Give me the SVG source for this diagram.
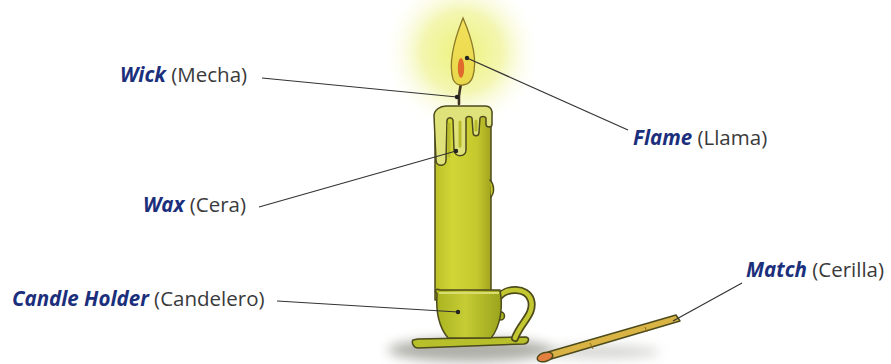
<svg xmlns="http://www.w3.org/2000/svg" width="891" height="364" viewBox="0 0 891 364">
  <defs>
    <radialGradient id="glow" cx="0.5" cy="0.5" r="0.5">
      <stop offset="0" stop-color="#eef27a"/>
      <stop offset="0.5" stop-color="#f3f6b0"/>
      <stop offset="1" stop-color="#ffffff" stop-opacity="0"/>
    </radialGradient>
    <linearGradient id="waxBody" x1="0" y1="0" x2="1" y2="0">
      <stop offset="0" stop-color="#bcc026"/>
      <stop offset="0.3" stop-color="#d2d536"/>
      <stop offset="0.75" stop-color="#c6c92d"/>
      <stop offset="1" stop-color="#a2a51f"/>
    </linearGradient>
    <linearGradient id="cupBody" x1="0" y1="0" x2="1" y2="0">
      <stop offset="0" stop-color="#a9b420"/>
      <stop offset="0.45" stop-color="#c6cc34"/>
      <stop offset="1" stop-color="#9aa41c"/>
    </linearGradient>
    <linearGradient id="flameFill" x1="0" y1="0" x2="0" y2="1">
      <stop offset="0" stop-color="#f2e15a"/>
      <stop offset="1" stop-color="#e8d84a"/>
    </linearGradient>
    <filter id="soft" x="-30%" y="-100%" width="160%" height="300%">
      <feGaussianBlur stdDeviation="6"/>
    </filter>
    <style>
      .lbl { font-family: "Open Sans", "Noto Sans", "Liberation Sans", sans-serif; font-size: 20.5px; }
      .en { font-weight: 700; font-style: italic; fill: #1b2f7c; }
      .es { fill: #3a3a3a; }
      .lead { stroke: #333333; stroke-width: 1.2; fill: none; }
      .dot { fill: #222222; }
      .ink { stroke: #4d4a1c; stroke-width: 1.5; stroke-linejoin: round; stroke-linecap: round; }
    </style>
  </defs>

  <rect width="891" height="364" fill="#ffffff"/>

  <!-- glow around the flame -->
  <circle cx="462" cy="52" r="80" fill="url(#glow)"/>

  <!-- soft shadows on the table -->
  <ellipse cx="470" cy="350" rx="82" ry="12" fill="#7a7a70" opacity="0.6" filter="url(#soft)"/>
  <ellipse cx="600" cy="352" rx="60" ry="6" fill="#9a9a90" opacity="0.45" filter="url(#soft)"/>

  <g id="candle">
    <!-- body -->
    <path class="ink" d="M435,114 L435,300 L491,300 L491,114 Z" fill="url(#waxBody)"/>
    <!-- drip bump on the right side -->
    <path class="ink" d="M490,180 C494,184 495,192 491,197" fill="#c4c72c"/>
    <!-- melted wax on top -->
    <path class="ink" d="M434,116 C434,110 440,106 446,106 L485,106 C491,106 493,111 492,116 L492,124 C492,128 486,128 486,124 L486,118 C485,116 481,116 480,118 L479,132 C479,137 473,137 473,132 L472,118 C471,116 467,116 466,118 L466,150 C466,157 455,158 454,150 L453,120 C452,117 448,117 447,120 L446,160 C446,167 436,167 436,160 Z" fill="#dfe27a"/>
    <!-- inner drip shadows -->
    <path d="M449,124 L449,156 M460,122 L460,146 M476,121 L476,130" stroke="#b8bb2a" stroke-width="3" fill="none" stroke-linecap="round"/>
  </g>

  <g id="wick">
    <path d="M461,84 C460,90 458,94 459,104" stroke="#3d3220" stroke-width="2.6" fill="none" stroke-linecap="round"/>
  </g>

  <g id="flame">
    <path d="M463,18 C470,34 478,58 473,76 C470,87 456,88 453,79 C448,62 455,38 463,18 Z" fill="url(#flameFill)" stroke="#8c7a2a" stroke-width="1.3"/>
    <ellipse cx="461" cy="68" rx="3.2" ry="10" fill="#e06a2c"/>
  </g>

  <g id="holder">
    <!-- tray -->
    <path class="ink" d="M413,340 C411,343 414,348 418,348 L524,344 C529,343 530,338 526,337 L418,339 Z" fill="#b7c02a"/>
    <!-- handle -->
    <path d="M498,298 C506,287 527,287 531,300 C535,314 521,322 515,338" stroke="#4d4a1c" stroke-width="8" fill="none" stroke-linecap="round"/>
    <path d="M498,298 C506,287 527,287 531,300 C535,314 521,322 515,338" stroke="#c3c832" stroke-width="4.5" fill="none" stroke-linecap="round"/>
    <!-- knob -->
    <ellipse class="ink" cx="501" cy="316" rx="3.5" ry="4" fill="#a8b020"/>
    <!-- cup -->
    <path class="ink" d="M437,294 C434,291 436,288 440,290 L500,290 C503,306 501,326 491,338 L448,338 C438,326 436,308 437,294 Z" fill="url(#cupBody)"/>
    <path d="M439,293 L499,293" stroke="#d9dd70" stroke-width="2" fill="none"/>
  </g>

  <g id="match">
    <path class="ink" d="M548,352 L676,315 L680,321 L551,359 Z" fill="#d9b445"/>
    <path d="M590,343 L593,349 M645,327 L647,332" stroke="#8a6a20" stroke-width="1" fill="none"/>
    <ellipse class="ink" cx="545" cy="357" rx="8" ry="4.5" transform="rotate(-16 545 357)" fill="#e3803f"/>
  </g>

  <!-- leader lines -->
  <g id="connectors">
    <path class="lead" d="M262,78 L457,97"/>
    <circle class="dot" cx="457" cy="97" r="2.2"/>
    <path class="lead" d="M628,130 L467,58"/>
    <circle class="dot" cx="467" cy="58" r="2.2"/>
    <path class="lead" d="M259,207 L456,151"/>
    <circle class="dot" cx="456" cy="151" r="2.2"/>
    <path class="lead" d="M277,301 L458,312"/>
    <circle class="dot" cx="458" cy="312" r="2.2"/>
    <path class="lead" d="M742,283 L673,321"/>
  </g>

  <!-- labels -->
  <g id="label-wick"><text class="lbl" x="120" y="82"><tspan class="en">Wick</tspan><tspan class="es"> (Mecha)</tspan></text></g>
  <g id="label-flame"><text class="lbl" x="633" y="145"><tspan class="en">Flame</tspan><tspan class="es"> (Llama)</tspan></text></g>
  <g id="label-wax"><text class="lbl" x="143" y="212"><tspan class="en">Wax</tspan><tspan class="es"> (Cera)</tspan></text></g>
  <g id="label-holder"><text class="lbl" x="12" y="306"><tspan class="en">Candle Holder</tspan><tspan class="es"> (Candelero)</tspan></text></g>
  <g id="label-match"><text class="lbl" x="746" y="277"><tspan class="en">Match</tspan><tspan class="es"> (Cerilla)</tspan></text></g>
</svg>
